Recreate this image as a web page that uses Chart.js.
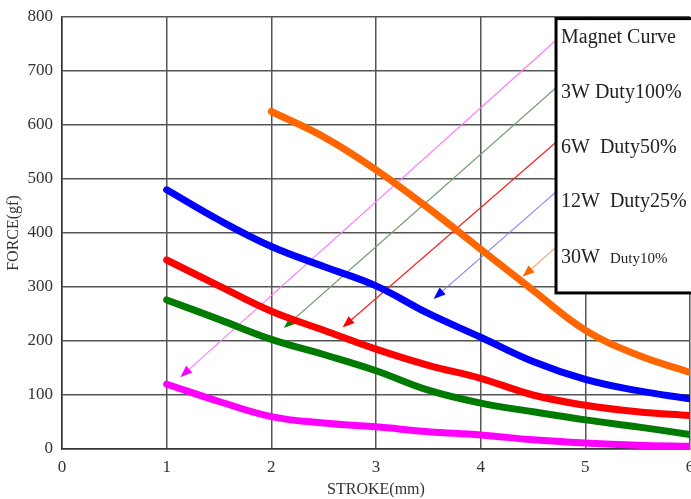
<!DOCTYPE html>
<html>
<head>
<meta charset="utf-8">
<script src="https://cdn.jsdelivr.net/npm/chart.js@4/dist/chart.umd.min.js"></script>
<style>
  html, body { margin: 0; padding: 0; background: #fff; }
  #wrap { width: 691px; height: 499px; }
</style>
</head>
<body>
<div id="wrap"><canvas id="force"></canvas></div>
<script>
// stroke positions (mm)
const stroke = [1, 1.5, 2, 2.5, 3, 3.5, 4, 4.5, 5, 5.5, 6];
const stroke30 = [2, 2.5, 3, 3.5, 4, 4.5, 5, 5.5, 6];

const magnetForce = [120, 88, 60, 48, 41, 32, 26, 17, 11, 7, 5];
const w3Force = [276, 240, 203, 175, 145, 109, 85, 69, 54, 41, 27];
const w6Force = [350, 302, 255, 220, 185, 155, 131, 100, 81, 69, 62];
const w12Force = [480, 424, 375, 338, 302, 251, 207, 162, 129, 108, 93];
const w30Force = [625, 578, 517, 446, 370, 294, 220, 174, 142];

const xTicks = [0, 1, 2, 3, 4, 5, 6];
const yTicks = [0, 100, 200, 300, 400, 500, 600, 700, 800];

// legend entries, top to bottom
const legendMain = ['Magnet Curve', '3W Duty100%', '6W  Duty50%', '12W  Duty25%', '30W  '];
const legendSmall = ['', '', '', '', 'Duty10%'];
const legendY = [761, 659, 557, 457, 354];
const legendBoxX = [4.72, 6.05];
const legendBoxY = [797, 289];

// pointer arrows: from legend box to curve (data coords)
const arrowFrom = [[4.72, 757], [4.72, 669], [4.72, 568], [4.72, 476], [4.72, 374]];
const arrowTo = [[1.13, 133], [2.12, 224], [2.68, 225], [3.55, 278], [4.4, 319]];
const arrowLine = ['#ff77ff', '#6f9f6f', '#ff1a1a', '#7f7fff', '#ff9966'];
const arrowHead = ['#ff00ff', '#008000', '#ff0000', '#0000ff', '#ff6600'];

const pts = (xs, ys) => xs.map((x, i) => ({ x: x, y: ys[i] }));

const curve = (label, data, color) => ({
    label: label,
    data: data,
    borderColor: color,
    backgroundColor: color,
    borderWidth: 7,
    pointRadius: 0,
    tension: 0.4,
    borderCapStyle: 'round',
    borderJoinStyle: 'round',
    fill: false,
});

const arrowsAndBox = {
    id: 'arrowsAndBox',
    beforeDatasetsDraw(chart) {
        const { ctx, scales: { x, y } } = chart;
        ctx.save();
        arrowFrom.forEach((from, i) => {
            const x1 = x.getPixelForValue(from[0]), y1 = y.getPixelForValue(from[1]);
            const x2 = x.getPixelForValue(arrowTo[i][0]), y2 = y.getPixelForValue(arrowTo[i][1]);
            const ang = Math.atan2(y2 - y1, x2 - x1);
            ctx.strokeStyle = arrowLine[i];
            ctx.lineWidth = 1.1;
            ctx.beginPath();
            ctx.moveTo(x1, y1);
            ctx.lineTo(x2 - 8 * Math.cos(ang), y2 - 8 * Math.sin(ang));
            ctx.stroke();
            ctx.fillStyle = arrowHead[i];
            ctx.beginPath();
            ctx.moveTo(x2, y2);
            ctx.lineTo(x2 - 12 * Math.cos(ang) + 4.5 * Math.sin(ang), y2 - 12 * Math.sin(ang) - 4.5 * Math.cos(ang));
            ctx.lineTo(x2 - 12 * Math.cos(ang) - 4.5 * Math.sin(ang), y2 - 12 * Math.sin(ang) + 4.5 * Math.cos(ang));
            ctx.closePath();
            ctx.fill();
        });
        ctx.restore();
    },
    afterDatasetsDraw(chart) {
        const { ctx, scales: { x, y } } = chart;
        const left = x.getPixelForValue(legendBoxX[0]);
        const right = x.getPixelForValue(legendBoxX[1]);
        const top = y.getPixelForValue(legendBoxY[0]);
        const bottom = y.getPixelForValue(legendBoxY[1]);
        ctx.save();
        ctx.fillStyle = '#fff';
        ctx.fillRect(left, top, right - left, bottom - top);
        ctx.strokeStyle = '#000';
        ctx.lineWidth = 3;
        ctx.strokeRect(left, top, right - left, bottom - top);
        ctx.fillStyle = '#222';
        ctx.textBaseline = 'middle';
        legendMain.forEach((txt, i) => {
            const ty = y.getPixelForValue(legendY[i]);
            ctx.font = '20px "Liberation Serif", serif';
            ctx.fillText(txt, left + 5, ty);
            if (legendSmall[i]) {
                const w = ctx.measureText(txt).width;
                ctx.font = '15px "Liberation Serif", serif';
                ctx.fillText(legendSmall[i], left + 5 + w, ty + 1);
            }
        });
        ctx.restore();
    },
};

const init = function () {
    const ctx = document.querySelector('#force');
    new Chart(ctx, {
        type: 'line',
        data: {
            datasets: [
                curve('Magnet Curve', pts(stroke, magnetForce), '#ff00ff'),
                curve('3W Duty100%', pts(stroke, w3Force), '#007a00'),
                curve('6W Duty50%', pts(stroke, w6Force), '#ff0000'),
                curve('12W Duty25%', pts(stroke, w12Force), '#0000ff'),
                curve('30W Duty10%', pts(stroke30, w30Force), '#ff6600'),
            ],
        },
        options: {
            responsive: true,
            maintainAspectRatio: false,
            animation: false,
            layout: { padding: { top: 17, right: 1, left: 0, bottom: 0 } },
            plugins: {
                legend: { display: false },
                tooltip: { enabled: false },
            },
            scales: {
                x: {
                    type: 'linear',
                    min: 0,
                    max: 6,
                    afterBuildTicks: s => { s.ticks = xTicks.map(v => ({ value: v })); },
                    afterFit: s => { s.height = 50; s.paddingLeft = 0; s.paddingRight = 0; },
                    grid: { color: '#555', lineWidth: 1.5, drawTicks: false },
                    border: { color: '#333', width: 1.5 },
                    ticks: {
                        color: '#333',
                        padding: 8,
                        maxRotation: 0,
                        font: { family: '"Liberation Serif", serif', size: 17 },
                    },
                    title: {
                        display: true,
                        text: 'STROKE(mm)',
                        color: '#333',
                        padding: { top: 4, bottom: 0 },
                        font: { family: '"Liberation Serif", serif', size: 16 },
                    },
                },
                y: {
                    min: 0,
                    max: 800,
                    afterBuildTicks: s => { s.ticks = yTicks.map(v => ({ value: v })); },
                    afterFit: s => { s.width = 62; s.paddingTop = 0; s.paddingBottom = 0; },
                    grid: { color: '#555', lineWidth: 1.5, drawTicks: false },
                    border: { color: '#333', width: 1.5 },
                    ticks: {
                        color: '#333',
                        padding: 9,
                        font: { family: '"Liberation Serif", serif', size: 17 },
                    },
                    title: {
                        display: true,
                        text: 'FORCE(gf)',
                        color: '#333',
                        padding: { top: 4, bottom: 0 },
                        font: { family: '"Liberation Serif", serif', size: 16 },
                    },
                },
            },
        },
        plugins: [arrowsAndBox],
    });
};

document.addEventListener('DOMContentLoaded', init);
</script>
</body>
</html>
